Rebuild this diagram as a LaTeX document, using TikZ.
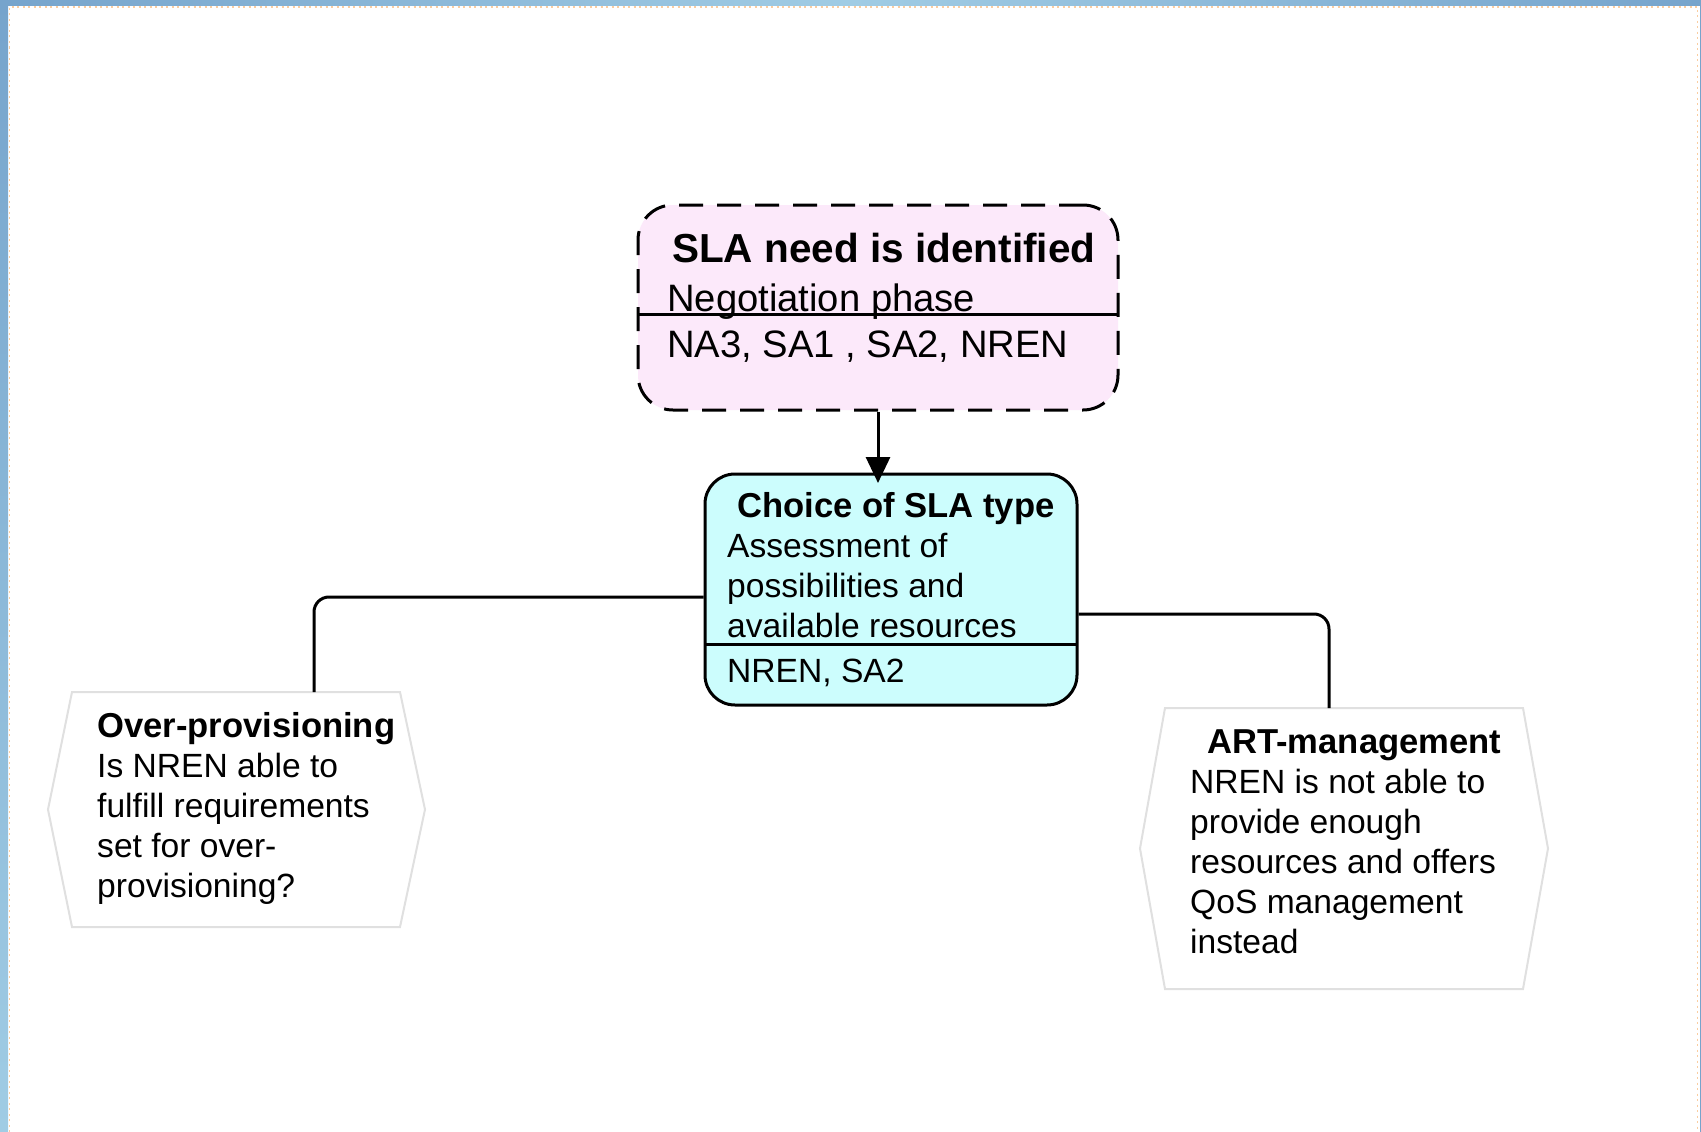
\documentclass[tikz,border=0pt]{standalone}
\usepackage{fontspec}
\setmainfont{Liberation Sans}
\usetikzlibrary{arrows.meta,calc}
\definecolor{needfill}{RGB}{252,233,250}
\definecolor{choicefill}{RGB}{204,253,253}
\definecolor{hexgray}{RGB}{224,224,224}
\definecolor{frameA}{RGB}{118,164,204}
\definecolor{frameB}{RGB}{160,204,228}
\definecolor{dotorange}{RGB}{250,205,160}
\begin{document}
\begin{tikzpicture}[x=1pt,y=-1pt,
  boxline/.style={line width=3pt,black},
  needbox/.style={boxline,dash pattern=on 24pt off 14pt,fill=needfill,rounded corners=35pt,inner sep=0pt},
  choicebox/.style={boxline,fill=choicefill,rounded corners=30pt,inner sep=0pt},
  hexline/.style={line width=2pt,draw=hexgray,fill=white},
  link/.style={line width=3pt,black},
  bigbold/.style={anchor=base west,inner sep=0pt,font=\fontsize{40.5}{48}\selectfont\bfseries},
  bigtext/.style={anchor=base west,inner sep=0pt,font=\fontsize{38.2}{46}\selectfont},
  smallbold/.style={anchor=base west,inner sep=0pt,font=\fontsize{34.6}{40}\selectfont\bfseries},
  smalltext/.style={anchor=base west,inner sep=0pt,font=\fontsize{33.6}{40}\selectfont},
  frame/.style={inner sep=0pt,minimum width=377pt,minimum height=235pt}]
\useasboundingbox (0,0) rectangle (1701,1132);
\fill[white] (0,0) rectangle (1701,1132);

% window frame
\shade[top color=frameA,bottom color=frameB] (0,0) rectangle (8,1132);
\shade[left color=frameA,right color=frameA,middle color=frameB] (0,0) rectangle (1701,6);
\fill[frameA] (1699.5,0) rectangle (1701,1132);
\draw[dotorange,line width=1.5pt,dash pattern=on 2pt off 3.5pt]
  (9.5,1132) -- (9.5,7) -- (1697.5,7) -- (1697.5,1132);

% stage 1: SLA need
\node[needbox,draw,minimum width=480pt,minimum height=205pt] (need) at (878,307.5) {};
\draw[boxline] (638,314) -- (1118,314);
\node[bigbold] (needTitle) at (672,262) {SLA need is identified};
\node[bigtext] (needPhase) at (667,311) {Negotiation phase};
\node[bigtext] (needWho) at (667,357) {NA3, SA1 , SA2, NREN};

% stage 2: choice of SLA type
\node[choicebox,draw,minimum width=372pt,minimum height=231pt] (choice) at (891,589.5) {};
\draw[boxline] (705,644) -- (1077,644);
\node[smallbold] (choiceTitle) at (737,517) {Choice of SLA type};
\node[smalltext] (choiceL1) at (727,557) {Assessment of};
\node[smalltext] (choiceL2) at (727,597) {possibilities and};
\node[smalltext] (choiceL3) at (727,637) {available resources};
\node[smalltext] (choiceWho) at (727,682) {NREN, SA2};

% option A: over-provisioning
\draw[hexline] (72,692) -- (400,692) -- (425,809.5) -- (400,927) -- (72,927) -- (48,809.5) -- cycle;
\node[frame] (over) at (236.5,809.5) {};
\coordinate (overIn) at (314,692);
\node[smallbold] (overTitle) at (97,737) {Over-provisioning};
\node[smalltext] (overL1) at (97,777) {Is NREN able to};
\node[smalltext] (overL2) at (97,817) {fulfill requirements};
\node[smalltext] (overL3) at (97,857) {set for over-};
\node[smalltext] (overL4) at (97,897) {provisioning?};

% option B: ART-management
\draw[hexline] (1165,708) -- (1523,708) -- (1548,848.5) -- (1523,989) -- (1165,989) -- (1140,848.5) -- cycle;
\node[frame,minimum width=408pt,minimum height=281pt] (art) at (1344,848.5) {};
\coordinate (artIn) at (1329,708);
\node[smallbold] (artTitle) at (1207,753) {ART-management};
\node[smalltext] (artL1) at (1190,793) {NREN is not able to};
\node[smalltext] (artL2) at (1190,833) {provide enough};
\node[smalltext] (artL3) at (1190,873) {resources and offers};
\node[smalltext] (artL4) at (1190,913) {QoS management};
\node[smalltext] (artL5) at (1190,953) {instead};

% connectors
\coordinate (choiceTip) at (878,483);
\draw[link,-{Triangle[width=24pt,length=26pt]}] (need.south) -- (choiceTip);
\draw[link,rounded corners=15pt] ([yshift=-7.5pt]choice.west) -| (overIn);
\draw[link,rounded corners=15pt] ([yshift=-24.5pt]choice.east) -| (artIn);
\end{tikzpicture}
\end{document}
